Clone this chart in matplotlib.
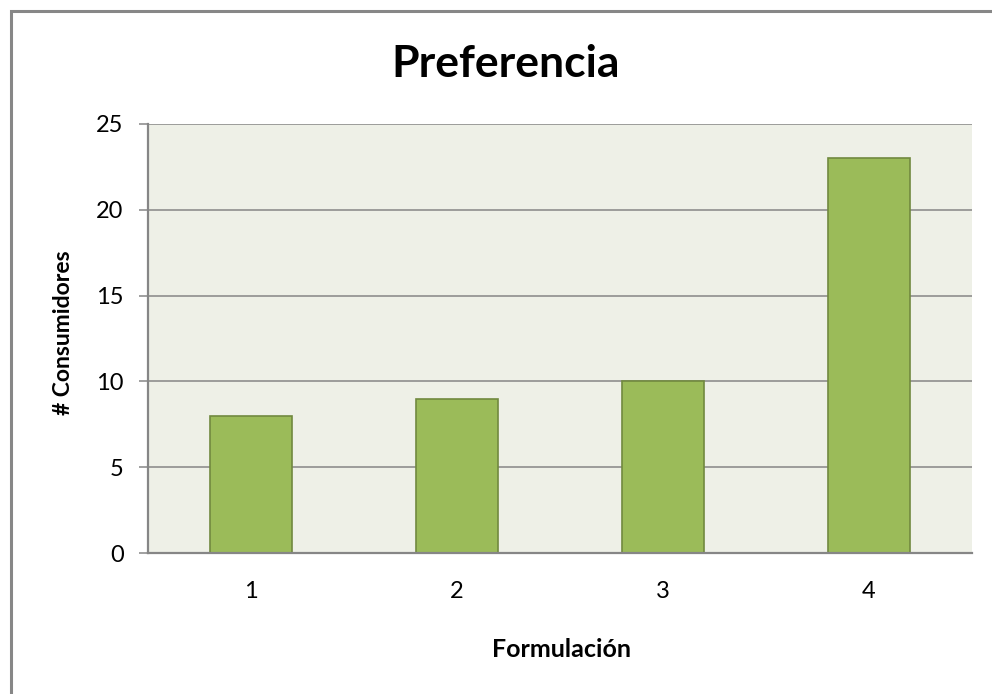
import matplotlib.pyplot as plt
from matplotlib.lines import Line2D

# data
formulaciones = ['1', '2', '3', '4']
consumidores = [8, 9, 10, 23]
y_ticks = [0, 5, 10, 15, 20, 25]

plt.rcParams['font.family'] = ['Lato', 'DejaVu Sans']

fig = plt.figure(figsize=(9.92, 6.94), dpi=100)
fig.patch.set_facecolor('white')

# outer chart border: only left and top edges are inside the picture
bx, by = 11 / 992, 1 - 11 / 694
fig.lines.append(Line2D([bx, bx, 1.0], [0.0, by, by], transform=fig.transFigure,
                        color='#878787', linewidth=2.2, solid_joinstyle='miter'))

ax = fig.add_axes([148 / 992, 141 / 694, 824 / 992, 429 / 694])
ax.set_facecolor('#EEF0E7')

xpos = range(len(formulaciones))
ax.bar(xpos, consumidores, width=0.4, color='#9BBB59', edgecolor='#71893F',
       linewidth=1.2, zorder=3)

ax.set_xlim(-0.5, len(formulaciones) - 0.5)
ax.set_ylim(0, 25)
ax.set_yticks(y_ticks)
ax.set_xticks(list(xpos))
ax.set_xticklabels(formulaciones)

ax.yaxis.grid(True, color='#868686', linewidth=1.1, zorder=1)
ax.set_axisbelow(True)

for s in ['top', 'right']:
    ax.spines[s].set_visible(False)
for s in ['left', 'bottom']:
    ax.spines[s].set_color('#868686')
    ax.spines[s].set_linewidth(1.6)
    ax.spines[s].set_zorder(4)

ax.tick_params(axis='y', length=6.5, width=1.1, color='#868686', pad=11,
               labelsize=17, labelcolor='black')
ax.tick_params(axis='x', length=0, pad=20, labelsize=17, labelcolor='black')

fig.text(506 / 992, 617 / 694, 'Preferencia', ha='center', va='baseline',
         fontsize=32, fontweight='bold')
fig.text(63 / 992, 361 / 694, '# Consumidores', ha='center', va='center',
         rotation=90, fontsize=16.5, fontweight='bold')
fig.text(561 / 992, 37 / 694, 'Formulación', ha='center', va='baseline',
         fontsize=18, fontweight='bold')

fig.savefig('out.png', dpi=100)
